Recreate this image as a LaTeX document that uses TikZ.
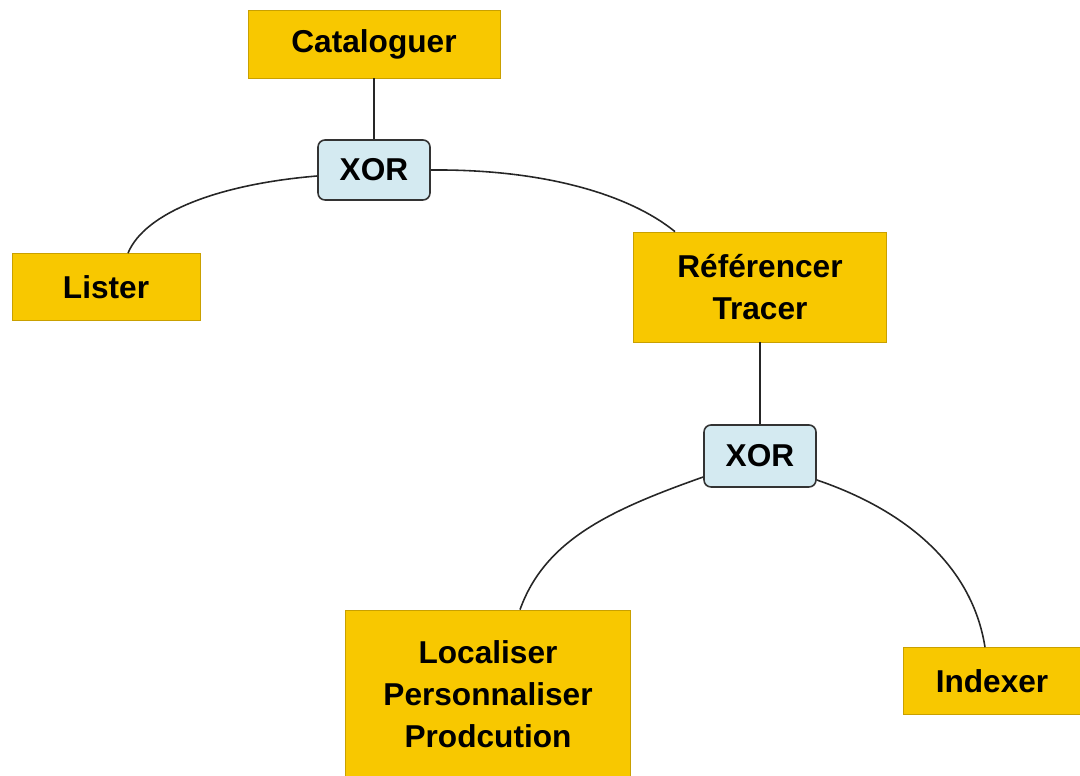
\documentclass[tikz,border=0pt]{standalone}
\usepackage{fontspec}
\setmainfont{Liberation Sans}
\definecolor{gold}{HTML}{F8C800}
\definecolor{goldshadow}{HTML}{C9A000}
\definecolor{xorblue}{HTML}{D4EAF1}
\begin{document}
\begin{tikzpicture}[x=0.02cm,y=-0.02cm,
  task/.style={fill=gold, draw=goldshadow, line width=0.4pt, align=center,
    font=\fontsize{18}{22}\selectfont\bfseries, inner sep=0pt},
  xorbox/.style={fill=xorblue, draw=black!80, line width=0.9pt, rounded corners=4pt,
    font=\fontsize{18}{22}\selectfont\bfseries, inner sep=0pt,
    minimum width=112*0.02cm, minimum height=60*0.02cm},
  link/.style={draw=black!85, line width=0.9pt}]
\useasboundingbox (0,0) rectangle (1080,776);
\node[task, minimum width=252*0.02cm, minimum height=68*0.02cm] (cat) at (374,44) {Cataloguer};
\node[xorbox] (x1) at (374,170) {XOR};
\node[task, minimum width=188*0.02cm, minimum height=67*0.02cm] (lister) at (106,287) {Lister};
\node[task, minimum width=253*0.02cm, minimum height=110*0.02cm] (ref) at (760,287) {Référencer\\[2pt]Tracer};
\node[xorbox, minimum height=62*0.02cm] (x2) at (760,456) {XOR};
\node[task, minimum width=285*0.02cm, minimum height=168*0.02cm] (loc) at (488,694) {Localiser\\[2pt]Personnaliser\\[2pt]Prodcution};
\node[task, minimum width=178*0.02cm, minimum height=67*0.02cm] (idx) at (992,681) {Indexer};
\draw[link] (cat.south) -- (x1.north);
\draw[link] ([yshift=-6*0.02cm]x1.west) .. controls (220,184) and (145,212) .. ([xshift=22*0.02cm]lister.north);
\draw[link] (x1.east) .. controls (545,169) and (630,195) .. ([xshift=-85*0.02cm]ref.north);
\draw[link] (ref.south) -- (x2.north);
\draw[link] ([yshift=-21*0.02cm]x2.west) .. controls (610,510) and (545,540) .. ([xshift=32*0.02cm]loc.north);
\draw[link] ([yshift=-24*0.02cm]x2.east) .. controls (905,510) and (972,565) .. ([xshift=-7*0.02cm]idx.north);
\end{tikzpicture}
\end{document}
